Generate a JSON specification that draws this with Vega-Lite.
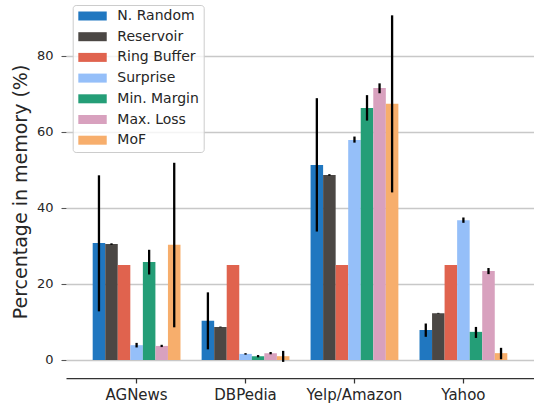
{
  "$schema": "https://vega.github.io/schema/vega-lite/v6.json",
  "width": 468,
  "height": 373,
  "autosize": {"type": "none"},
  "padding": {"left": 66, "top": 5, "right": 0, "bottom": 27},
  "background": "white",
  "config": {
    "view": {"stroke": null},
    "font": "DejaVu Sans"
  },
  "data": {
    "values": [
      {"dataset": "AGNews", "method": "N. Random", "value": 30.8, "lo": 12.8, "hi": 48.6},
      {"dataset": "AGNews", "method": "Reservoir", "value": 30.5, "lo": 30.3, "hi": 30.7},
      {"dataset": "AGNews", "method": "Ring Buffer", "value": 25.0, "lo": 25.0, "hi": 25.0},
      {"dataset": "AGNews", "method": "Surprise", "value": 3.9, "lo": 3.3, "hi": 4.5},
      {"dataset": "AGNews", "method": "Min. Margin", "value": 25.8, "lo": 22.5, "hi": 29.0},
      {"dataset": "AGNews", "method": "Max. Loss", "value": 3.7, "lo": 3.4, "hi": 4.0},
      {"dataset": "AGNews", "method": "MoF", "value": 30.3, "lo": 8.6, "hi": 51.9},
      {"dataset": "DBPedia", "method": "N. Random", "value": 10.3, "lo": 2.8, "hi": 17.8},
      {"dataset": "DBPedia", "method": "Reservoir", "value": 8.7, "lo": 8.6, "hi": 8.8},
      {"dataset": "DBPedia", "method": "Ring Buffer", "value": 25.0, "lo": 25.0, "hi": 25.0},
      {"dataset": "DBPedia", "method": "Surprise", "value": 1.6, "lo": 1.4, "hi": 1.8},
      {"dataset": "DBPedia", "method": "Min. Margin", "value": 1.0, "lo": 0.7, "hi": 1.3},
      {"dataset": "DBPedia", "method": "Max. Loss", "value": 1.8, "lo": 1.5, "hi": 2.1},
      {"dataset": "DBPedia", "method": "MoF", "value": 1.0, "lo": -0.5, "hi": 2.4},
      {"dataset": "Yelp/Amazon", "method": "N. Random", "value": 51.3, "lo": 33.8, "hi": 68.9},
      {"dataset": "Yelp/Amazon", "method": "Reservoir", "value": 48.7, "lo": 48.5, "hi": 48.9},
      {"dataset": "Yelp/Amazon", "method": "Ring Buffer", "value": 25.0, "lo": 25.0, "hi": 25.0},
      {"dataset": "Yelp/Amazon", "method": "Surprise", "value": 57.9, "lo": 57.2, "hi": 58.8},
      {"dataset": "Yelp/Amazon", "method": "Min. Margin", "value": 66.3, "lo": 63.0, "hi": 69.7},
      {"dataset": "Yelp/Amazon", "method": "Max. Loss", "value": 71.6, "lo": 70.2, "hi": 72.8},
      {"dataset": "Yelp/Amazon", "method": "MoF", "value": 67.4, "lo": 44.1, "hi": 90.7},
      {"dataset": "Yahoo", "method": "N. Random", "value": 7.9, "lo": 6.1, "hi": 9.6},
      {"dataset": "Yahoo", "method": "Reservoir", "value": 12.3, "lo": 12.2, "hi": 12.4},
      {"dataset": "Yahoo", "method": "Ring Buffer", "value": 25.0, "lo": 25.0, "hi": 25.0},
      {"dataset": "Yahoo", "method": "Surprise", "value": 36.8, "lo": 36.1, "hi": 37.5},
      {"dataset": "Yahoo", "method": "Min. Margin", "value": 7.4, "lo": 5.8, "hi": 8.7},
      {"dataset": "Yahoo", "method": "Max. Loss", "value": 23.4, "lo": 22.6, "hi": 24.2},
      {"dataset": "Yahoo", "method": "MoF", "value": 1.8, "lo": 0.2, "hi": 3.2}
    ]
  },
  "encoding": {
    "x": {
      "field": "dataset",
      "type": "nominal",
      "sort": ["AGNews", "DBPedia", "Yelp/Amazon", "Yahoo"],
      "scale": {"paddingInner": 0.194, "paddingOuter": 0.245},
      "axis": {
        "title": null,
        "labelAngle": 0,
        "labelFontSize": 15,
        "labelColor": "#262626",
        "labelPadding": 4,
        "domainColor": "#333333",
        "domainWidth": 1.25,
        "tickColor": "#333333",
        "tickSize": 5,
        "tickWidth": 1.25
      }
    },
    "xOffset": {
      "field": "method",
      "type": "nominal",
      "sort": ["N. Random", "Reservoir", "Ring Buffer", "Surprise", "Min. Margin", "Max. Loss", "MoF"],
      "scale": {"paddingInner": 0, "paddingOuter": 0}
    }
  },
  "layer": [
    {
      "mark": {"type": "bar"},
      "encoding": {
        "y": {
          "field": "value",
          "type": "quantitative",
          "scale": {"domain": [-4.74, 93.42], "nice": false, "zero": false},
          "axis": {
            "title": "Percentage in memory (%)",
            "titleFontSize": 19,
            "titleFontWeight": "normal",
            "titleColor": "#262626",
            "titlePadding": 6,
            "values": [0, 20, 40, 60, 80],
            "grid": true,
            "gridColor": "#c8c8c8",
            "gridWidth": 1.3,
            "domain": false,
            "tickColor": "#555555",
            "tickSize": 5,
            "tickWidth": 1.1,
            "labelFontSize": 13,
            "labelColor": "#262626",
            "labelPadding": 8
          }
        },
        "color": {
          "field": "method",
          "type": "nominal",
          "scale": {
            "domain": ["N. Random", "Reservoir", "Ring Buffer", "Surprise", "Min. Margin", "Max. Loss", "MoF"],
            "range": ["#2077c0", "#4b4744", "#e0634e", "#95bff9", "#249e77", "#d8a1be", "#f7ae6c"]
          },
          "legend": {
            "title": null,
            "orient": "none",
            "legendX": 6.7,
            "legendY": 0,
            "fillColor": "rgba(255,255,255,0.8)",
            "strokeColor": "#cccccc",
            "cornerRadius": 3,
            "padding": 4,
            "symbolType": "M-0.77,-0.643H3.29V0.643H-0.77Z",
            "symbolSize": 196,
            "symbolStrokeWidth": 0,
            "symbolOpacity": 1,
            "labelFontSize": 14,
            "labelFont": "DejaVu Sans",
            "labelColor": "#262626",
            "labelOffset": 26.6,
            "labelLimit": 200,
            "rowPadding": 6.7
          }
        }
      }
    },
    {
      "mark": {"type": "rule", "color": "black", "strokeWidth": 2.3},
      "encoding": {
        "y": {"field": "lo", "type": "quantitative"},
        "y2": {"field": "hi"}
      }
    }
  ]
}
